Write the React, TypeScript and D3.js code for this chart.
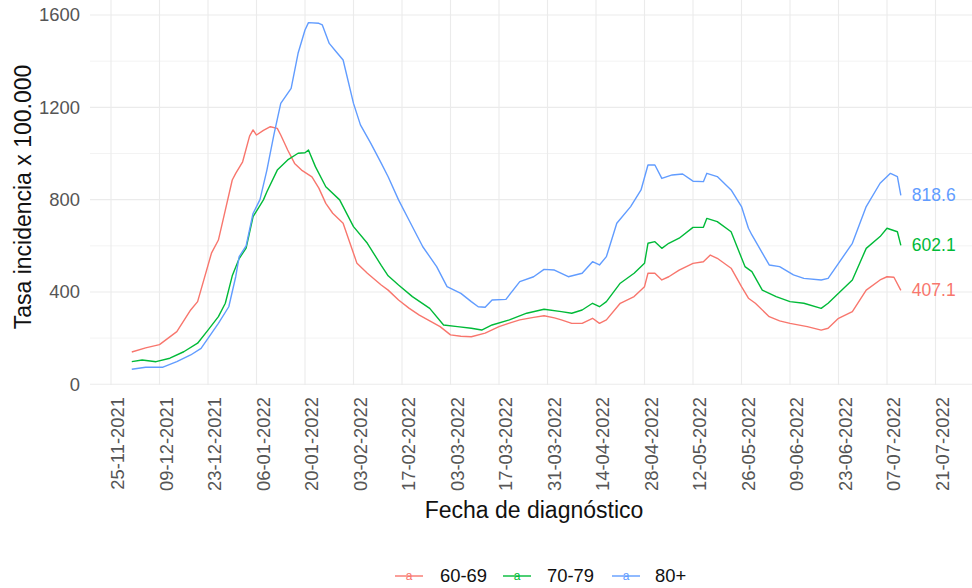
import React from "react";
import * as d3 from "d3";

// ---- data (day offsets counted from 25-11-2021) ----
const startDate = new Date(2021, 10, 25);
const tickDates = [
  "25-11-2021","09-12-2021","23-12-2021","06-01-2022","20-01-2022","03-02-2022",
  "17-02-2022","03-03-2022","17-03-2022","31-03-2022","14-04-2022","28-04-2022",
  "12-05-2022","26-05-2022","09-06-2022","23-06-2022","07-07-2022","21-07-2022",
];
const yTicks = [0, 400, 800, 1200, 1600];
const yMinor = [200, 600, 1000, 1400];

const seriesNames = ["60-69", "70-79", "80+"];
const seriesColors = ["#F8766D", "#00BA38", "#619CFF"];

const days6069 = [6,10,14,19,23,25,29,31,33,35,36,38,40,41,42,44,46,48,49,51,53,55,58,60,62,64,67,71,74,78,80,83,86,89,92,95,98,101,104,108,112,115,118,122,125,128,130,133,136,139,141,143,147,151,154,155,157,159,161,164,168,171,173,175,179,182,184,186,190,193,196,201,205,207,210,214,218,222,224,226,228];
const vals6069 = [140,158,172,228,322,358,568,625,755,885,914,964,1075,1102,1080,1100,1116,1109,1080,1015,957,928,899,850,784,741,698,524,481,430,408,365,330,300,275,250,214,208,206,222,250,265,279,290,297,288,279,264,264,286,264,279,351,380,423,481,481,452,466,495,524,531,560,546,503,423,373,351,293,275,264,250,235,243,286,315,408,452,466,464,407.1];

const days7079 = [6,9,13,17,21,25,28,31,33,35,37,39,41,42,44,45,48,51,54,56,57,59,62,66,70,74,78,80,83,87,92,96,100,104,107,110,115,120,125,130,133,136,139,141,143,147,151,154,155,157,159,161,164,168,171,172,175,179,183,185,188,192,196,200,205,207,210,214,218,222,224,227,228];
const vals7079 = [98,105,98,113,141,178,235,293,351,470,545,590,726,750,799,834,928,972,1001,1003,1015,943,856,799,683,611,515,470,430,380,329,257,250,243,235,257,279,308,325,315,308,322,351,336,358,438,481,524,611,618,589,611,633,680,680,719,705,661,510,488,408,380,358,351,329,351,394,452,589,640,676,661,602.1];

const days80 = [6,10,15,19,23,26,29,31,34,36,37,39,41,43,45,47,49,52,54,56,57,60,61,63,65,67,70,72,75,78,80,83,86,90,94,97,101,104,106,108,110,114,118,122,125,128,132,136,139,141,143,146,150,153,155,157,159,162,165,168,171,172,175,179,182,184,185,190,193,197,200,205,207,210,214,218,222,225,227,228];
const vals80 = [65,74,74,98,127,156,221,264,336,466,553,600,740,800,928,1080,1217,1282,1434,1535,1567,1564,1557,1477,1441,1405,1217,1124,1044,958,899,799,712,596,510,423,394,358,336,334,365,368,445,466,498,495,466,481,531,517,553,698,770,842,950,950,892,907,911,880,878,914,900,842,770,676,647,517,510,474,459,452,459,524,611,770,871,914,900,818.6];

const endLabels = ["407.1", "602.1", "818.6"];

const W = 972, H = 588;
const FONT = "'Liberation Sans', Arial, Helvetica, sans-serif";

const addDays = (n: number) => d3.timeDay.offset(startDate, n);
const parseTick = d3.timeParse("%d-%m-%Y");

export default function App() {
  const x = d3.scaleTime()
    .domain([startDate, addDays(238)])
    .range([111, 111 + 238 * (48.5 / 14)]);
  const y = d3.scaleLinear().domain([0, 1600]).range([384.3, 15]);

  const panelLeft = 90, panelRight = W, panelTop = 0, panelBottom = 385;

  const series = [
    { days: days6069, vals: vals6069 },
    { days: days7079, vals: vals7079 },
    { days: days80, vals: vals80 },
  ];

  const line = d3.line<[Date, number]>()
    .x((d) => x(d[0]))
    .y((d) => y(d[1]));

  const legendItems = [
    { keyX: 395, textX: 440 },
    { keyX: 503, textX: 547 },
    { keyX: 612, textX: 655 },
  ];
  const legendY = 576;

  return (
    <svg width={W} height={H} style={{ position: "absolute", left: 0, top: 0, background: "#fff" }} fontFamily={FONT}>
      {/* gridlines */}
      {yMinor.map((v) => (
        <line key={"ym" + v} x1={panelLeft} x2={panelRight} y1={y(v)} y2={y(v)} stroke="#EBEBEB" strokeWidth={0.6} />
      ))}
      {yTicks.map((v) => (
        <line key={"y" + v} x1={panelLeft} x2={panelRight} y1={y(v)} y2={y(v)} stroke="#EBEBEB" strokeWidth={1.1} />
      ))}
      {tickDates.map((t) => {
        const xx = x(parseTick(t) as Date);
        return <line key={"x" + t} x1={xx} x2={xx} y1={panelTop} y2={panelBottom} stroke="#EBEBEB" strokeWidth={1.1} />;
      })}

      {/* series lines */}
      {series.map((s, i) => {
        const pts: [Date, number][] = s.days.map((d, j) => [addDays(d), s.vals[j]]);
        return (
          <path key={"s" + i} d={line(pts) || ""} fill="none" stroke={seriesColors[i]} strokeWidth={1.4} strokeLinejoin="round" />
        );
      })}

      {/* end labels */}
      {series.map((s, i) => {
        const li = s.days.length - 1;
        return (
          <text key={"l" + i} x={x(addDays(s.days[li])) + 11} y={y(s.vals[li])} dy="0.35em" fontSize={17.5} fill={seriesColors[i]}>
            {endLabels[i]}
          </text>
        );
      })}

      {/* y axis tick labels */}
      {yTicks.map((v) => (
        <text key={"yt" + v} x={80} y={y(v)} dy="0.35em" textAnchor="end" fontSize={18.4} fill="#555">
          {v}
        </text>
      ))}

      {/* x axis tick labels */}
      {tickDates.map((t) => {
        const xx = x(parseTick(t) as Date);
        return (
          <text key={"xt" + t} transform={`translate(${xx},397) rotate(-90)`} textAnchor="end" dy="0.73em" fontSize={18.4} fill="#555">
            {t}
          </text>
        );
      })}

      {/* axis titles */}
      <text x={534} y={510} dy="0.35em" textAnchor="middle" fontSize={23} fill="#111">
        Fecha de diagnóstico
      </text>
      <text transform="translate(23,197) rotate(-90)" dy="0.35em" textAnchor="middle" fontSize={23} fill="#111">
        Tasa incidencia x 100.000
      </text>

      {/* legend */}
      {legendItems.map((it, i) => (
        <g key={"lg" + i}>
          <line x1={it.keyX} x2={it.keyX + 28} y1={legendY} y2={legendY} stroke={seriesColors[i]} strokeWidth={1.4} />
          <text x={it.keyX + 14} y={legendY} dy="0.35em" textAnchor="middle" fontSize={12} fill={seriesColors[i]}>a</text>
          <text x={it.textX} y={legendY} dy="0.35em" fontSize={18.4} fill="#111">{seriesNames[i]}</text>
        </g>
      ))}
    </svg>
  );
}
